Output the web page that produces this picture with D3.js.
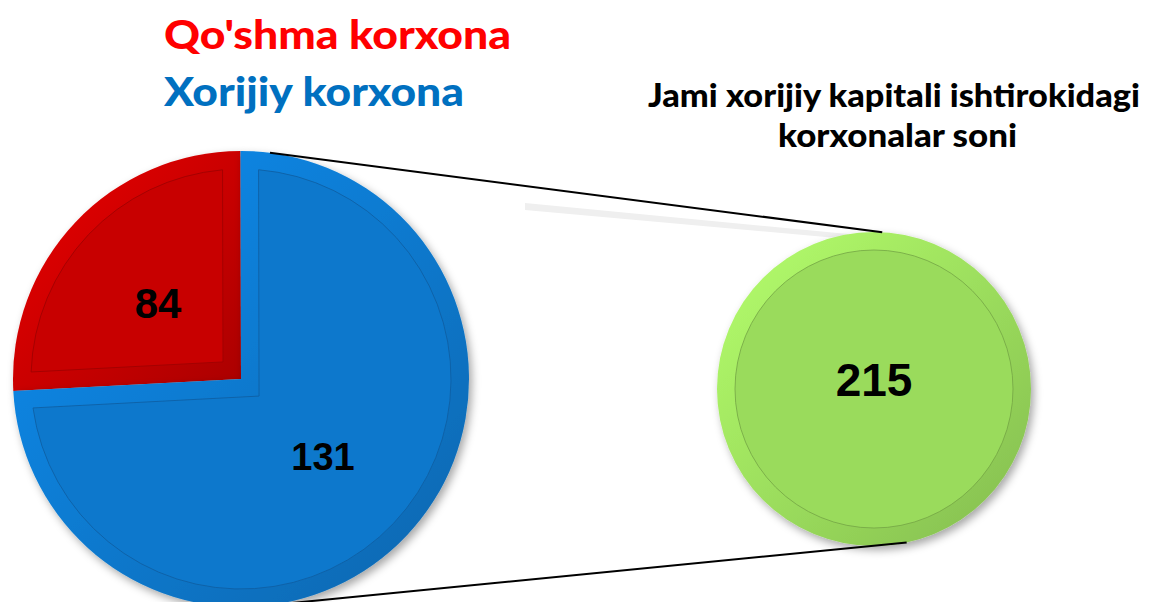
<!DOCTYPE html>
<html>
<head>
<meta charset="utf-8">
<script src="https://cdn.jsdelivr.net/npm/d3@7"></script>
<style>
  body { margin: 0; background: #fff; }
  svg { display: block; }
</style>
</head>
<body>
<div id="chart"></div>
<script>
// data
const categories = ["Qo'shma korxona", "Xorijiy korxona"];
const counts = [84, 131];
// share of the main circle each slice covers in the picture (the drawing is not proportional to counts)
const drawnShare = [25.8, 74.2];
const sliceColors = ["#C80000", "#0A78CC"];
const titleColors = ["#FF0000", "#0070C0"];
const totalTitle = ["Jami xorijiy kapitali ishtirokidagi", "korxonalar soni"];
const totalCount = [215];
const totalColor = "#9ADB5C";

const width = 1149, height = 602;
const svg = d3.select('#chart').append('svg')
    .attr('width', width)
    .attr('height', height);

const defs = svg.append('defs');

// soft drop shadow
const shadow = defs.append('filter').attr('id', 'shadow')
    .attr('x', '-20%').attr('y', '-20%').attr('width', '140%').attr('height', '140%');
shadow.append('feDropShadow')
    .attr('dx', 3).attr('dy', 4).attr('stdDeviation', 4)
    .attr('flood-color', '#000').attr('flood-opacity', 0.35);

// bevel gradient for the outer band of each shape
function bevelGradient(id, color) {
    let c = d3.color(color);
    let g = defs.append('linearGradient').attr('id', id)
        .attr('x1', '0%').attr('y1', '0%').attr('x2', '100%').attr('y2', '100%');
    g.append('stop').attr('offset', '0%').attr('stop-color', c.brighter(0.45));
    g.append('stop').attr('offset', '55%').attr('stop-color', c);
    g.append('stop').attr('offset', '100%').attr('stop-color', c.darker(0.45));
}
sliceColors.forEach((c, i) => bevelGradient('bevel' + i, c));
bevelGradient('bevelTotal', totalColor);

// inner (inset) wedge inside a pie slice
function insetWedge(d, R, inset) {
    let a0 = d.startAngle, a1 = d.endAngle;
    let half = (a1 - a0) / 2, mid = a0 + half;
    let k = inset / Math.sin(half);
    let r = R - inset;
    let da = Math.asin(inset / r);
    let p = d3.path();
    p.moveTo(k * Math.sin(mid), -k * Math.cos(mid));
    p.lineTo(r * Math.sin(a0 + da), -r * Math.cos(a0 + da));
    p.arc(0, 0, r, a0 + da - Math.PI / 2, a1 - da - Math.PI / 2, false);
    p.closePath();
    return p.toString();
}

//Main pie
const main = { x: 241, y: 379, r: 228 };
const inset = 18;
const startA = -93 * Math.PI / 180;

const pie = d3.pie()
    .sort(null)
    .value(d => d.share)
    .startAngle(startA)
    .endAngle(startA + 2 * Math.PI);

const slices = pie(categories.map((c, i) => ({ name: c, count: counts[i], share: drawnShare[i], i: i })));
const arc = d3.arc().innerRadius(0).outerRadius(main.r);

const mainG = svg.append('g')
    .attr('transform', `translate(${main.x},${main.y})`);

// faint band left behind the top connector
svg.append('polygon')
    .attr('points', '525,203 525,210 848,239 848,234')
    .attr('fill', '#EFEFEF');

let sliceG = mainG.selectAll('g.slice')
    .data(slices)
    .enter()
    .append('g')
    .classed('slice', true)
    .attr('filter', 'url(#shadow)');

sliceG.append('path')
    .attr('d', arc)
    .attr('fill', d => `url(#bevel${d.data.i})`);

sliceG.append('path')
    .attr('d', d => insetWedge(d, main.r, inset))
    .attr('fill', d => sliceColors[d.data.i])
    .attr('stroke', d => d3.color(sliceColors[d.data.i]).darker(0.7))
    .attr('stroke-width', 0.8);

// value labels
const labelPos = [[-83, -61], [82, 91]];
const labelSize = [42, 38];
mainG.selectAll('text.value')
    .data(slices)
    .enter()
    .append('text')
    .classed('value', true)
    .attr('x', d => labelPos[d.data.i][0])
    .attr('y', d => labelPos[d.data.i][1])
    .attr('text-anchor', 'middle')
    .style('font-family', '"Liberation Sans", Arial, sans-serif')
    .style('font-weight', 'bold')
    .style('font-size', d => labelSize[d.data.i] + 'px')
    .attr('fill', '#000')
    .text(d => d.data.count);

//Second circle with the total
const second = { x: 874, y: 389, r: 157 };
const totalG = svg.append('g')
    .attr('transform', `translate(${second.x},${second.y})`)
    .attr('filter', 'url(#shadow)');

const totalSlice = d3.pie().value(d => d)(totalCount);
totalG.selectAll('path.outer')
    .data(totalSlice)
    .enter()
    .append('path')
    .classed('outer', true)
    .attr('d', d3.arc().innerRadius(0).outerRadius(second.r))
    .attr('fill', 'url(#bevelTotal)');

totalG.selectAll('path.inner')
    .data(totalSlice)
    .enter()
    .append('path')
    .classed('inner', true)
    .attr('d', d3.arc().innerRadius(0).outerRadius(second.r - inset))
    .attr('fill', totalColor)
    .attr('stroke', d3.color(totalColor).darker(0.8))
    .attr('stroke-width', 0.8);

svg.append('text')
    .attr('x', second.x)
    .attr('y', second.y + 7)
    .attr('text-anchor', 'middle')
    .style('font-family', '"Liberation Sans", Arial, sans-serif')
    .style('font-weight', 'bold')
    .style('font-size', '46px')
    .attr('fill', '#000')
    .text(totalCount[0]);

//Connector lines
function onCircle(c, deg) {
    let a = deg * Math.PI / 180;
    return [c.x + c.r * Math.sin(a), c.y - c.r * Math.cos(a)];
}
const connectors = [[onCircle(main, 7.3), onCircle(second, 3)],
                    [onCircle(main, 172.6), onCircle(second, 168)]];
svg.selectAll('line.connector')
    .data(connectors)
    .enter()
    .append('line')
    .classed('connector', true)
    .attr('x1', d => d[0][0]).attr('y1', d => d[0][1])
    .attr('x2', d => d[1][0]).attr('y2', d => d[1][1])
    .attr('stroke', '#000')
    .attr('stroke-width', 2);

//Legend titles
const legendY = [49, 106];
const legendW = [347, 300];
svg.selectAll('text.legend')
    .data(categories)
    .enter()
    .append('text')
    .classed('legend', true)
    .attr('x', 164)
    .attr('y', (d, i) => legendY[i])
    .attr('textLength', (d, i) => legendW[i])
    .attr('lengthAdjust', 'spacingAndGlyphs')
    .style('font-family', 'Lato, "Open Sans", sans-serif')
    .style('font-weight', 900)
    .style('font-size', '40px')
    .attr('fill', (d, i) => titleColors[i])
    .text(d => d);

//Total title
const totalTitleY = [107, 147];
const totalTitleW = [492, 239];
svg.selectAll('text.total-title')
    .data(totalTitle)
    .enter()
    .append('text')
    .classed('total-title', true)
    .attr('x', (d, i) => i === 0 ? 648 : 778)
    .attr('y', (d, i) => totalTitleY[i])
    .attr('textLength', (d, i) => totalTitleW[i])
    .attr('lengthAdjust', 'spacingAndGlyphs')
    .style('font-family', 'Lato, "Open Sans", sans-serif')
    .style('font-weight', 900)
    .style('font-size', '33px')
    .attr('fill', '#000')
    .text(d => d);
</script>
</body>
</html>
